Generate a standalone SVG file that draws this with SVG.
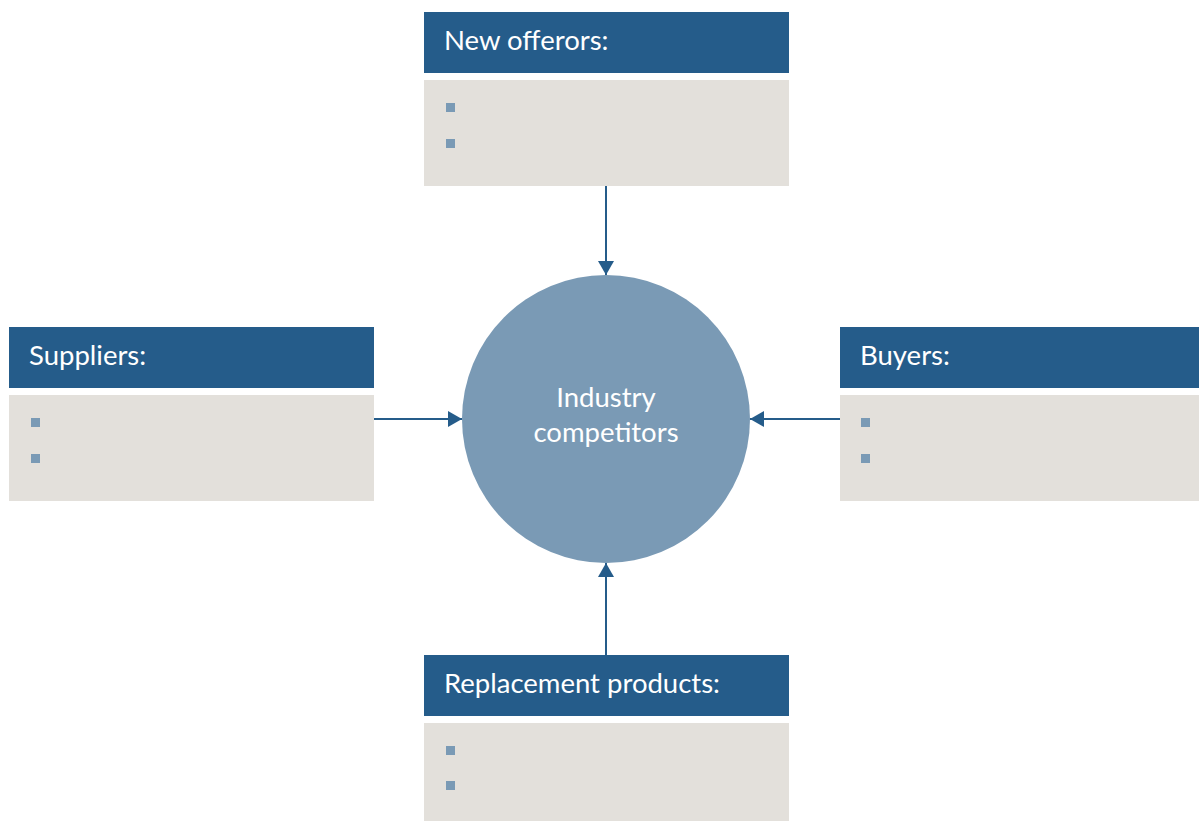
<svg xmlns="http://www.w3.org/2000/svg" width="1199" height="821" viewBox="0 0 1199 821">
<defs>
<style>
.hdr{fill:#255C8A}
.body{fill:#E3E0DB}
.bul{fill:#7A9AB5}
.ht{font-family:Lato,"Open Sans","Liberation Sans",sans-serif;font-size:27.5px;fill:#FFFFFF}
.ct{font-family:Lato,"Open Sans","Liberation Sans",sans-serif;font-size:27.5px;fill:#FFFFFF;text-anchor:middle}
.conn{stroke:#255C8A;stroke-width:2;fill:none;marker-end:url(#ah)}
</style>
<marker id="ah" viewBox="0 0 14 16" refX="14" refY="8" markerWidth="14" markerHeight="16" markerUnits="userSpaceOnUse" orient="auto">
<path d="M0,0 L14,8 L0,16 Z" fill="#255C8A"/>
</marker>
</defs>
<rect width="1199" height="821" fill="#FFFFFF"/>
<g id="connectors">
<line class="conn" x1="606" y1="186" x2="606" y2="275"/>
<line class="conn" x1="374" y1="419" x2="462" y2="419"/>
<line class="conn" x1="840" y1="419" x2="750" y2="419"/>
<line class="conn" x1="606" y1="655" x2="606" y2="563"/>
</g>
<g id="industry-competitors">
<circle cx="606" cy="419" r="144" fill="#7A9AB5"/>
<text class="ct" x="606" y="407">Industry</text>
<text class="ct" x="606" y="442">competitors</text>
</g>
<g id="new-offerors">
<rect class="hdr" x="424" y="12" width="365" height="61"/>
<text class="ht" x="444" y="50">New offerors:</text>
<rect class="body" x="424" y="80" width="365" height="106"/>
<rect class="bul" x="446" y="103" width="9" height="9"/>
<rect class="bul" x="446" y="139" width="9" height="9"/>
</g>
<g id="suppliers">
<rect class="hdr" x="9" y="327" width="365" height="61"/>
<text class="ht" x="29" y="365">Suppliers:</text>
<rect class="body" x="9" y="395" width="365" height="106"/>
<rect class="bul" x="31" y="418" width="9" height="9"/>
<rect class="bul" x="31" y="454" width="9" height="9"/>
</g>
<g id="buyers">
<rect class="hdr" x="840" y="327" width="365" height="61"/>
<text class="ht" x="860" y="365">Buyers:</text>
<rect class="body" x="840" y="395" width="365" height="106"/>
<rect class="bul" x="861" y="418" width="9" height="9"/>
<rect class="bul" x="861" y="454" width="9" height="9"/>
</g>
<g id="replacement-products">
<rect class="hdr" x="424" y="655" width="365" height="61"/>
<text class="ht" x="444" y="693">Replacement products:</text>
<rect class="body" x="424" y="723" width="365" height="106"/>
<rect class="bul" x="446" y="746" width="9" height="9"/>
<rect class="bul" x="446" y="781" width="9" height="9"/>
</g>
</svg>
